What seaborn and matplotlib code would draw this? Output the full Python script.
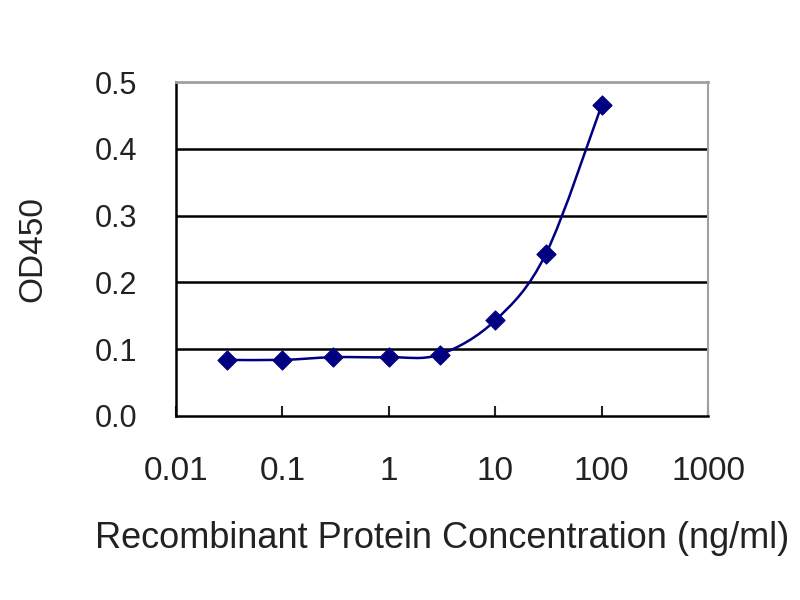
import numpy as np
import pandas as pd
import matplotlib
matplotlib.use("Agg")
import matplotlib.pyplot as plt
from matplotlib.path import Path
from matplotlib.patches import PathPatch
import seaborn as sns

# ── data ──────────────────────────────────────────────────────
concentration = [0.03, 0.1, 0.3, 1, 3, 10, 30, 100]
od450 = [0.084, 0.084, 0.088, 0.088, 0.092, 0.143, 0.243, 0.465]

x_ticks = [0.01, 0.1, 1, 10, 100, 1000]
x_tick_labels = ["0.01", "0.1", "1", "10", "100", "1000"]
y_ticks = [0.0, 0.1, 0.2, 0.3, 0.4, 0.5]
y_tick_labels = ["0.0", "0.1", "0.2", "0.3", "0.4", "0.5"]

navy = "#000080"

df = pd.DataFrame({"conc": concentration, "od": od450})

sns.set_style("white")
plt.rcParams["font.family"] = ["Liberation Sans", "DejaVu Sans"]

fig = plt.figure(figsize=(8, 6), dpi=100)
ax = fig.add_axes([0.22, 0.3067, 0.665, 0.5566])
ax.set_xscale("log")

# ── smoothed line like the spreadsheet's (bezier in log-x space) ─
lx = np.log10(df["conc"].to_numpy())
ly = df["od"].to_numpy()
pts = np.column_stack([lx, ly])
ext = np.vstack([pts[0], pts, pts[-1]])
verts = [pts[0]]
codes = [Path.MOVETO]
for i in range(len(pts) - 1):
    p0, p1, p2, p3 = ext[i], ext[i + 1], ext[i + 2], ext[i + 3]
    c1 = p1 + (p2 - p0) / 6
    c2 = p2 - (p3 - p1) / 6
    verts += [c1, c2, p2]
    codes += [Path.CURVE4] * 3
verts = np.array(verts)
verts[:, 0] = 10 ** verts[:, 0]
ax.add_patch(PathPatch(Path(verts, codes), fill=False, edgecolor=navy,
                       linewidth=1.8, zorder=3))

sns.scatterplot(data=df, x="conc", y="od", marker="D", s=95, color=navy,
                edgecolor=navy, linewidth=0.8, ax=ax, zorder=4, legend=False)

# ── axes styling ──────────────────────────────────────────────
ax.set_xlim(0.01, 1000)
ax.set_ylim(0, 0.5)
ax.set_xticks(x_ticks)
ax.set_xticklabels(x_tick_labels)
ax.minorticks_off()
ax.set_yticks(y_ticks)
ax.set_yticklabels(y_tick_labels)

for y in y_ticks[1:-1]:
    ax.axhline(y, color="black", linewidth=1.8, zorder=1)

ax.spines["left"].set_color("black")
ax.spines["left"].set_linewidth(1.8)
ax.spines["bottom"].set_color("black")
ax.spines["bottom"].set_linewidth(1.8)
ax.spines["top"].set_color("#a0a0a0")
ax.spines["top"].set_linewidth(2.0)
ax.spines["right"].set_color("#a0a0a0")
ax.spines["right"].set_linewidth(1.5)

ax.tick_params(axis="x", direction="in", length=7, width=1.5, pad=29,
               labelsize=24, colors="#222222", bottom=True, top=False)
ax.tick_params(axis="y", length=0, pad=28, labelsize=22, colors="#222222",
               left=True)

ax.set_xlabel("Recombinant Protein Concentration (ng/ml)", fontsize=26,
              labelpad=24, color="#222222")
ax.set_ylabel("OD450", fontsize=24, labelpad=33, color="#222222")

fig.savefig("out.png", dpi=100)
